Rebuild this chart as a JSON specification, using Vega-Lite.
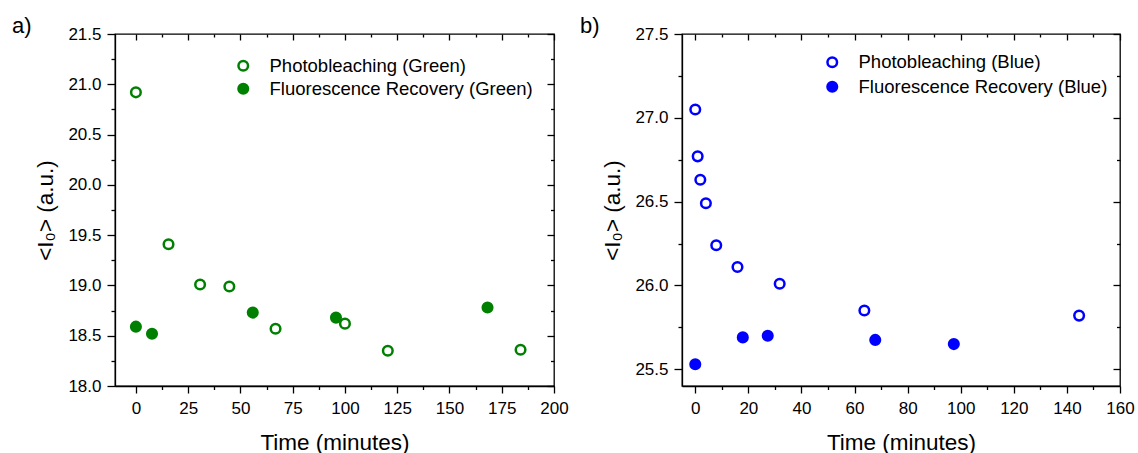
{
  "$schema": "https://vega.github.io/schema/vega-lite/v6.json",
  "padding": {"left": 11, "top": 13, "right": 0, "bottom": 0},
  "spacing": 10,
  "resolve": {"scale": {"fill": "independent", "stroke": "independent"}, "legend": {"fill": "independent", "stroke": "independent"}},
  "config": {
    "font": "Liberation Sans",
    "view": {"stroke": "black", "strokeWidth": 1.3},
    "axis": {"grid": false, "domainColor": "black", "domainWidth": 1.3, "tickColor": "black", "tickWidth": 1.3, "labelColor": "black", "titleColor": "black", "labelFont": "Liberation Sans", "titleFont": "Liberation Sans", "labelFontSize": 17, "titleFontSize": 22.5, "titleFontWeight": "normal", "labelFlush": false, "labelOverlap": false},
    "legend": {"labelFont": "Liberation Sans", "labelColor": "black"},
    "title": {"fontSize": 22, "fontWeight": "normal", "anchor": "start", "frame": "bounds", "baseline": "alphabetic", "offset": -12.5, "color": "black", "font": "Liberation Sans"}
  },
  "hconcat": [
    {
      "title": {"text": "a)", "dx": -23},
      "width": 439,
      "height": 352,
      "data": {"values": [
        {"series": "Fluorescence Recovery (Green)", "time": 0, "intensity": 18.59},
        {"series": "Fluorescence Recovery (Green)", "time": 7.7, "intensity": 18.52},
        {"series": "Fluorescence Recovery (Green)", "time": 55.9, "intensity": 18.73},
        {"series": "Fluorescence Recovery (Green)", "time": 95.7, "intensity": 18.68},
        {"series": "Fluorescence Recovery (Green)", "time": 168.2, "intensity": 18.78},
        {"series": "Photobleaching (Green)", "time": 0, "intensity": 20.92},
        {"series": "Photobleaching (Green)", "time": 15.6, "intensity": 19.41},
        {"series": "Photobleaching (Green)", "time": 30.7, "intensity": 19.01},
        {"series": "Photobleaching (Green)", "time": 44.7, "intensity": 18.99},
        {"series": "Photobleaching (Green)", "time": 66.8, "intensity": 18.57},
        {"series": "Photobleaching (Green)", "time": 100.0, "intensity": 18.62},
        {"series": "Photobleaching (Green)", "time": 120.5, "intensity": 18.35},
        {"series": "Photobleaching (Green)", "time": 184.0, "intensity": 18.36}
      ]},
      "layer": [
        {
          "mark": {"type": "circle", "size": 92, "strokeWidth": 2.5, "opacity": 1},
          "encoding": {
            "x": {"field": "time", "type": "quantitative",
              "scale": {"domain": [-10, 200], "nice": false, "zero": false},
              "axis": {"orient": "bottom", "title": "Time (minutes)", "titlePadding": 14.5, "labelPadding": 7.5,
                "values": [0, 12.5, 25, 37.5, 50, 62.5, 75, 87.5, 100, 112.5, 125, 137.5, 150, 162.5, 175, 187.5, 200],
                "labelExpr": "datum.value % 25 === 0 ? format(datum.value, 'd') : ''",
                "tickSize": {"condition": {"test": "datum.value % 25 === 0", "value": 7}, "value": 3.5}}},
            "y": {"field": "intensity", "type": "quantitative",
              "scale": {"domain": [18, 21.5], "nice": false, "zero": false},
              "axis": {"orient": "left", "title": "<I₀> (a.u.)", "titlePadding": 10, "labelPadding": 6,
                "values": [18, 18.25, 18.5, 18.75, 19, 19.25, 19.5, 19.75, 20, 20.25, 20.5, 20.75, 21, 21.25, 21.5],
                "labelExpr": "abs(datum.value * 2 - round(datum.value * 2)) < 0.001 ? format(datum.value, '.1f') : ''",
                "tickSize": {"condition": {"test": "abs(datum.value * 2 - round(datum.value * 2)) < 0.001", "value": 8}, "value": 4}}},
            "fill": {"field": "series", "type": "nominal",
              "scale": {"domain": ["Photobleaching (Green)", "Fluorescence Recovery (Green)"], "range": ["white", "#008000"]},
              "legend": {"title": null, "orient": "none", "legendX": 119, "legendY": 22.5, "labelFontSize": 18.5, "labelLimit": 400, "symbolSize": 92, "symbolStrokeWidth": 2.5, "labelOffset": 17, "rowPadding": 2, "padding": 0}},
            "stroke": {"field": "series", "type": "nominal",
              "scale": {"domain": ["Photobleaching (Green)", "Fluorescence Recovery (Green)"], "range": ["#008000", "#008000"]},
              "legend": {"title": null, "orient": "none", "legendX": 119, "legendY": 22.5, "labelFontSize": 18.5, "labelLimit": 400, "symbolSize": 92, "symbolStrokeWidth": 2.5, "labelOffset": 17, "rowPadding": 2, "padding": 0}}
          }
        },
        {
          "mark": {"type": "circle", "opacity": 0},
          "encoding": {
            "x": {"field": "time", "type": "quantitative",
              "scale": {"domain": [-10, 200], "nice": false, "zero": false},
              "axis": {"orient": "top", "title": null, "labels": false, "domain": false, "offset": -6, "tickSize": 6,
                "values": [0, 25, 50, 75, 100, 125, 150, 175, 200]}},
            "y": {"field": "intensity", "type": "quantitative",
              "scale": {"domain": [18, 21.5], "nice": false, "zero": false},
              "axis": {"orient": "right", "title": null, "labels": false, "domain": false, "offset": -7, "tickSize": 7,
                "values": [18, 18.5, 19, 19.5, 20, 20.5, 21, 21.5]}}
          }
        },
        {
          "mark": {"type": "circle", "opacity": 0},
          "encoding": {
            "x": {"field": "time", "type": "quantitative",
              "scale": {"domain": [-10, 200], "nice": false, "zero": false},
              "axis": {"orient": "top", "title": null, "labels": false, "domain": false, "offset": -3, "tickSize": 3,
                "values": [12.5, 37.5, 62.5, 87.5, 112.5, 137.5, 162.5, 187.5]}},
            "y": {"field": "intensity", "type": "quantitative",
              "scale": {"domain": [18, 21.5], "nice": false, "zero": false},
              "axis": {"orient": "right", "title": null, "labels": false, "domain": false, "offset": -3.5, "tickSize": 3.5,
                "values": [18.25, 18.75, 19.25, 19.75, 20.25, 20.75, 21.25]}}
          }
        }
      ],
      "resolve": {"axis": {"x": "independent", "y": "independent"}}
    },
    {
      "title": {"text": "b)", "dx": -22},
      "width": 438,
      "height": 352,
      "data": {"values": [
        {"series": "Fluorescence Recovery (Blue)", "time": 0, "intensity": 25.53},
        {"series": "Fluorescence Recovery (Blue)", "time": 17.9, "intensity": 25.69},
        {"series": "Fluorescence Recovery (Blue)", "time": 27.3, "intensity": 25.70},
        {"series": "Fluorescence Recovery (Blue)", "time": 67.8, "intensity": 25.675},
        {"series": "Fluorescence Recovery (Blue)", "time": 97.4, "intensity": 25.65},
        {"series": "Photobleaching (Blue)", "time": 0, "intensity": 27.05},
        {"series": "Photobleaching (Blue)", "time": 0.9, "intensity": 26.77},
        {"series": "Photobleaching (Blue)", "time": 1.9, "intensity": 26.63},
        {"series": "Photobleaching (Blue)", "time": 4.0, "intensity": 26.49},
        {"series": "Photobleaching (Blue)", "time": 7.9, "intensity": 26.24},
        {"series": "Photobleaching (Blue)", "time": 15.9, "intensity": 26.11},
        {"series": "Photobleaching (Blue)", "time": 31.8, "intensity": 26.01},
        {"series": "Photobleaching (Blue)", "time": 63.7, "intensity": 25.85},
        {"series": "Photobleaching (Blue)", "time": 144.6, "intensity": 25.82}
      ]},
      "layer": [
        {
          "mark": {"type": "circle", "size": 92, "strokeWidth": 2.5, "opacity": 1},
          "encoding": {
            "x": {"field": "time", "type": "quantitative",
              "scale": {"domain": [-5, 160], "nice": false, "zero": false},
              "axis": {"orient": "bottom", "title": "Time (minutes)", "titlePadding": 14.5, "labelPadding": 7.5,
                "values": [0, 10, 20, 30, 40, 50, 60, 70, 80, 90, 100, 110, 120, 130, 140, 150, 160],
                "labelExpr": "datum.value % 20 === 0 ? format(datum.value, 'd') : ''",
                "tickSize": {"condition": {"test": "datum.value % 20 === 0", "value": 7}, "value": 3.5}}},
            "y": {"field": "intensity", "type": "quantitative",
              "scale": {"domain": [25.4, 27.5], "nice": false, "zero": false},
              "axis": {"orient": "left", "title": "<I₀> (a.u.)", "titlePadding": 10, "labelPadding": 6,
                "values": [25.5, 25.75, 26, 26.25, 26.5, 26.75, 27, 27.25, 27.5],
                "labelExpr": "abs(datum.value * 2 - round(datum.value * 2)) < 0.001 ? format(datum.value, '.1f') : ''",
                "tickSize": {"condition": {"test": "abs(datum.value * 2 - round(datum.value * 2)) < 0.001", "value": 8}, "value": 4}}},
            "fill": {"field": "series", "type": "nominal",
              "scale": {"domain": ["Photobleaching (Blue)", "Fluorescence Recovery (Blue)"], "range": ["white", "#0000ff"]},
              "legend": {"title": null, "orient": "none", "legendX": 141, "legendY": 19, "labelFontSize": 18.5, "labelLimit": 400, "symbolSize": 92, "symbolStrokeWidth": 2.5, "labelOffset": 17, "rowPadding": 3.5, "padding": 0}},
            "stroke": {"field": "series", "type": "nominal",
              "scale": {"domain": ["Photobleaching (Blue)", "Fluorescence Recovery (Blue)"], "range": ["#0000ff", "#0000ff"]},
              "legend": {"title": null, "orient": "none", "legendX": 141, "legendY": 19, "labelFontSize": 18.5, "labelLimit": 400, "symbolSize": 92, "symbolStrokeWidth": 2.5, "labelOffset": 17, "rowPadding": 3.5, "padding": 0}}
          }
        },
        {
          "mark": {"type": "circle", "opacity": 0},
          "encoding": {
            "x": {"field": "time", "type": "quantitative",
              "scale": {"domain": [-5, 160], "nice": false, "zero": false},
              "axis": {"orient": "top", "title": null, "labels": false, "domain": false, "offset": -6, "tickSize": 6,
                "values": [0, 20, 40, 60, 80, 100, 120, 140, 160]}},
            "y": {"field": "intensity", "type": "quantitative",
              "scale": {"domain": [25.4, 27.5], "nice": false, "zero": false},
              "axis": {"orient": "right", "title": null, "labels": false, "domain": false, "offset": -7, "tickSize": 7,
                "values": [25.5, 26, 26.5, 27, 27.5]}}
          }
        },
        {
          "mark": {"type": "circle", "opacity": 0},
          "encoding": {
            "x": {"field": "time", "type": "quantitative",
              "scale": {"domain": [-5, 160], "nice": false, "zero": false},
              "axis": {"orient": "top", "title": null, "labels": false, "domain": false, "offset": -3, "tickSize": 3,
                "values": [10, 30, 50, 70, 90, 110, 130, 150]}},
            "y": {"field": "intensity", "type": "quantitative",
              "scale": {"domain": [25.4, 27.5], "nice": false, "zero": false},
              "axis": {"orient": "right", "title": null, "labels": false, "domain": false, "offset": -3.5, "tickSize": 3.5,
                "values": [25.75, 26.25, 26.75, 27.25]}}
          }
        }
      ],
      "resolve": {"axis": {"x": "independent", "y": "independent"}}
    }
  ]
}
